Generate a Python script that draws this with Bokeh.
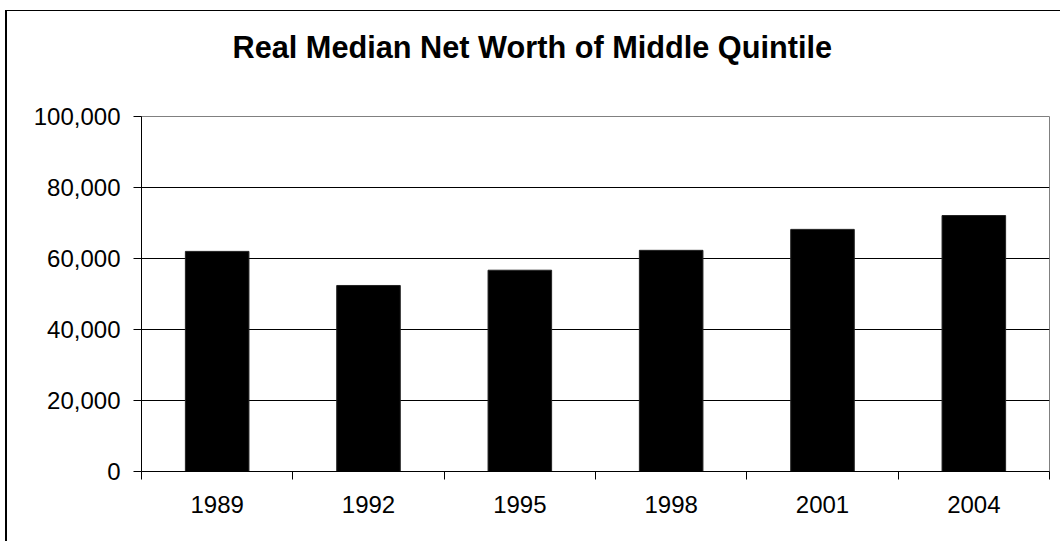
from bokeh.plotting import figure
from bokeh.models import Range1d, FixedTicker, NumeralTickFormatter, Title
from bokeh.embed import file_html
from bokeh.resources import INLINE

years = ["1989", "1992", "1995", "1998", "2001", "2004"]
net_worth = [62000, 52400, 56700, 62300, 68200, 72100]
y_ticks = [0, 20000, 40000, 60000, 80000, 100000]
title_text = "Real Median Net Worth of Middle Quintile"

FONT = "Liberation Sans"

x_pos = [i + 0.5 for i in range(len(years))]

p = figure(
    output_backend="svg", toolbar_location=None,
    frame_width=908, frame_height=355,
    min_border_left=134, min_border_right=11,
    min_border_top=105, min_border_bottom=70,
    x_range=Range1d(0, len(years)), y_range=Range1d(0, 100000),
    margin=(10, 0, 0, 5),
)
p.styles = {"border-left": "2px solid #000", "border-top": "1px solid #000"}

# spacer panel between the frame and the title
spacer = Title(text=" ", text_font=FONT, text_font_size="30.7px", standoff=15)
p.add_layout(spacer, "above")

main_title = Title(text=title_text, text_font=FONT, text_font_size="30.7px",
                   text_font_style="bold", text_color="#000000",
                   align="left", offset=91, standoff=0)
p.add_layout(main_title, "above")

p.vbar(x=x_pos, top=net_worth, width=0.42, fill_color="#000000",
       line_color="#222222", line_width=1)

p.outline_line_color = "#808080"
p.outline_line_width = 1
p.background_fill_color = "white"
p.border_fill_color = "white"

# x axis: labels at centers, ticks at category boundaries
xa = p.xaxis[0]
xa.ticker = FixedTicker(ticks=x_pos, minor_ticks=list(range(len(years) + 1)))
xa.major_label_overrides = {x: y for x, y in zip(x_pos, years)}
xa.major_tick_line_color = None
xa.major_tick_out = 0
xa.major_tick_in = 0
xa.minor_tick_line_color = "#000000"
xa.minor_tick_out = 8
xa.minor_tick_in = 0
xa.axis_line_color = "#000000"
xa.major_label_text_font = FONT
xa.major_label_text_font_size = "24px"
xa.major_label_text_color = "#000000"
xa.major_label_standoff = 16

ya = p.yaxis[0]
ya.ticker = FixedTicker(ticks=y_ticks)
ya.formatter = NumeralTickFormatter(format="0,0")
ya.major_tick_out = 8
ya.major_tick_in = 0
ya.minor_tick_line_color = None
ya.axis_line_color = "#000000"
ya.major_tick_line_color = "#000000"
ya.major_label_text_font = FONT
ya.major_label_text_font_size = "24px"
ya.major_label_text_color = "#000000"
ya.major_label_standoff = 13

p.xgrid.grid_line_color = None
p.ygrid.grid_line_color = "#000000"
p.ygrid.grid_line_width = 1

open("out.html", "w").write(file_html(p, INLINE))
